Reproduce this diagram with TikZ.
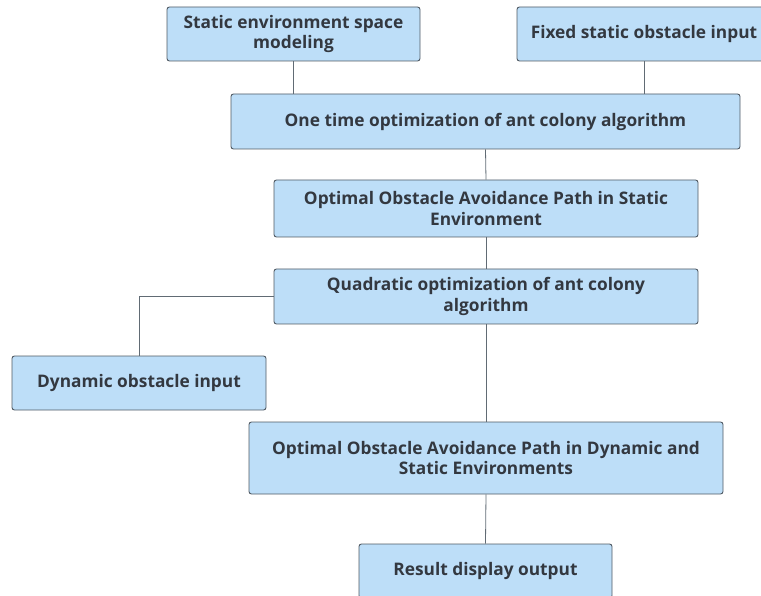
\documentclass[tikz,border=0pt]{standalone}
\usepackage{fontspec}
\setmainfont{Open Sans}
\usepackage{xcolor}
\usetikzlibrary{positioning}
\definecolor{boxfill}{HTML}{BDDEF8}
\definecolor{boxline}{HTML}{505A64}
\definecolor{txt}{HTML}{333840}

\begin{document}
\begin{tikzpicture}[x=1pt,y=-1pt,
		stepbox/.style={draw=boxline, fill=boxfill, rounded corners=2.5pt, line width=0.9pt,
			align=center, inner sep=0pt, text=txt, font=\fontsize{17.3}{20.5}\selectfont\bfseries},
		link/.style={draw=boxline!90, line width=0.8pt}]
		\useasboundingbox (0,0) rectangle (761,596);

		\node[stepbox, minimum width=253pt, minimum height=54pt] (spacemodel) at (293.5,34) {Static environment space\\modeling};
		\node[stepbox, minimum width=254pt, minimum height=54pt] (staticobs) at (644,34) {Fixed static obstacle input};
		\node[stepbox, minimum width=509pt, minimum height=55pt] (firstopt) at (485.5,121.5) {One time optimization of ant colony algorithm};
		\node[stepbox, minimum width=424pt, minimum height=57pt] (staticpath) at (486,208.5) {Optimal Obstacle Avoidance Path in Static\\Environment};
		\node[stepbox, minimum width=424pt, minimum height=55pt] (secondopt) at (486,296.5) {Quadratic optimization of ant colony\\algorithm};
		\node[stepbox, minimum width=254pt, minimum height=54pt] (dynobs) at (139,383) {Dynamic obstacle input};
		\node[stepbox, minimum width=474pt, minimum height=72pt] (dynpath) at (486,458) {Optimal Obstacle Avoidance Path in Dynamic and\\Static Environments};
		\node[stepbox, minimum width=253pt, minimum height=54pt] (result) at (485.5,571) {Result display output};

		% connectors
		\draw[link] (spacemodel.south) -- (spacemodel.south |- firstopt.north);
		\draw[link] (staticobs.south) -- (staticobs.south |- firstopt.north);
		\draw[link] (firstopt.south) -- (staticpath.north);
		\draw[link] (staticpath.south) -- (secondopt.north);
		\draw[link] (secondopt.west) -- (dynobs.north |- secondopt.west) -- (dynobs.north);
		\draw[link] (secondopt.south) -- (dynpath.north);
		\draw[link] (dynpath.south) -- (result.north);
	\end{tikzpicture}
\end{document}
